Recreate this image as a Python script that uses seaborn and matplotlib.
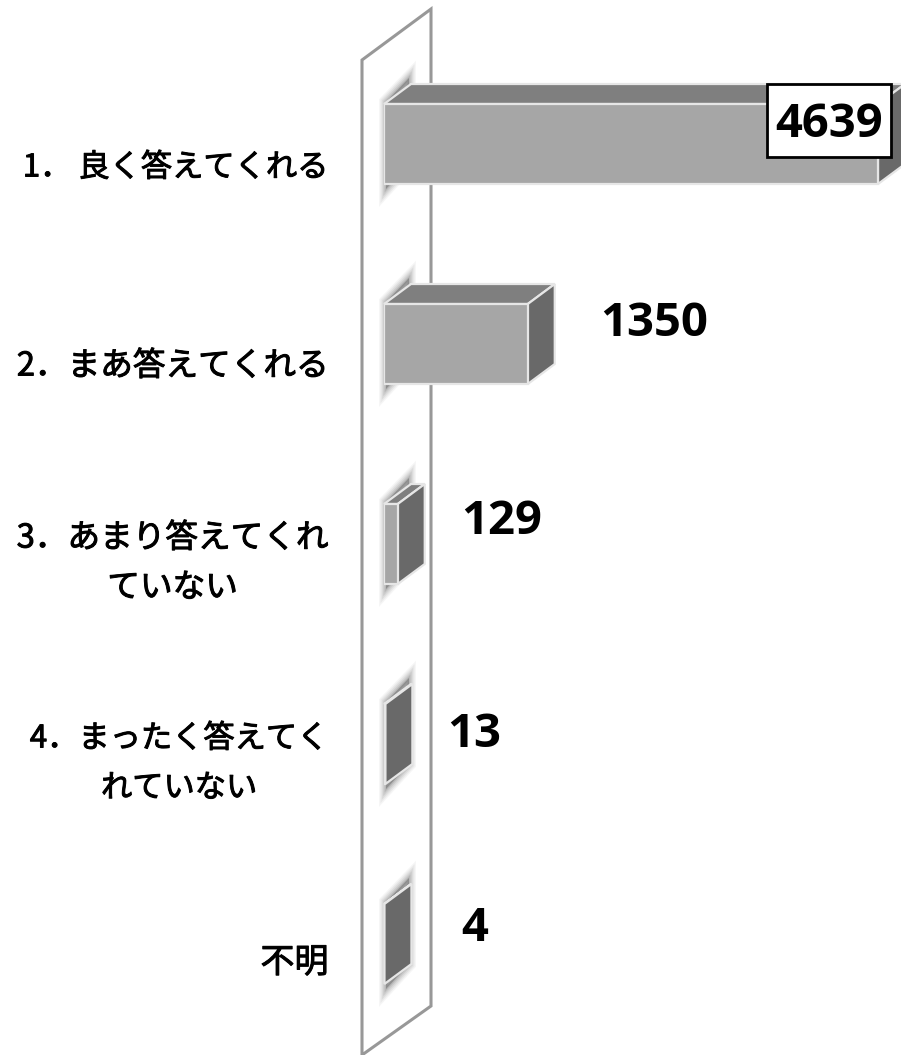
import seaborn as sns
import matplotlib.pyplot as plt
import matplotlib.patheffects as pe
import pandas as pd
from matplotlib.patches import Polygon, Rectangle

sns.set_theme(style="white")
plt.rcParams['font.family'] = ['Noto Sans CJK JP', 'DejaVu Sans']

# Data
categories = ['1． 良く答えてくれる', '2．まあ答えてくれる', '3．あまり答えてくれ\nていない',
              '4．まったく答えてく\nれていない', '不明']
counts = [4639, 1350, 129, 13, 4]

df = pd.DataFrame({'category': categories, 'count': counts})

fig = plt.figure(figsize=(9.01, 10.55), dpi=100)
ax = fig.add_axes([384 / 901, 0, 517 / 901, 1])

sns.barplot(data=df, y='category', x='count', orient='h', color='#a6a6a6',
            saturation=1, width=0.4, edgecolor='#e6e6e6', linewidth=1.6,
            zorder=4, ax=ax)

# one count is 494/4639 px wide, one category is 200 px tall
px_x = 4639 / 494
px_y = 1 / 200
ax.set_xlim(0, 517 * px_x)
ax.set_ylim(911 * px_y, -144 * px_y)

depth_x = 27 * px_x
depth_y = 20 * px_y

# Back wall
wall = Polygon([(-22 * px_x, -84 * px_y), (47 * px_x, -135 * px_y),
                (47 * px_x, 862 * px_y), (-22 * px_x, 911 * px_y)],
               closed=True, facecolor='white', edgecolor='#989898',
               linewidth=2.2, clip_on=False, zorder=1)
ax.add_patch(wall)

# 3D faces and soft shadow, built from the bars themselves
for bar in ax.patches[:len(counts)]:
    x1 = bar.get_width()
    top = bar.get_y()
    bottom = top + bar.get_height()

    shadow = [(2 * px_x, bottom + 5 * px_y), (2 * px_x, top - 2 * px_y),
              (depth_x - 2 * px_x, top - depth_y - 6 * px_y), (depth_x - 2 * px_x, bottom - depth_y)]
    for w, a in [(10, 0.06), (8, 0.08), (6, 0.1), (4, 0.13), (2, 0.18)]:
        ax.add_patch(Polygon(shadow, closed=True, facecolor='#606060', edgecolor='#606060',
                             linewidth=w, alpha=a, clip_on=False, zorder=2))

    top_face = [(0, top), (depth_x, top - depth_y), (x1 + depth_x, top - depth_y), (x1, top)]
    side_face = [(x1, top), (x1 + depth_x, top - depth_y),
                 (x1 + depth_x, bottom - depth_y), (x1, bottom)]
    ax.add_patch(Polygon(top_face, closed=True, facecolor='#7f7f7f', edgecolor='#e6e6e6',
                         linewidth=1.6, clip_on=False, zorder=3))
    ax.add_patch(Polygon(side_face, closed=True, facecolor='#696969', edgecolor='#e6e6e6',
                         linewidth=1.6, clip_on=False, zorder=3))

# White box behind the first value
ax.add_patch(Rectangle((counts[0] - 111 * px_x, -60 * px_y), 124 * px_x, 73 * px_y,
                       facecolor='white', edgecolor='black', linewidth=2,
                       clip_on=False, zorder=5))

# Value labels, offsets are pixels from the bar end and centre
label_offsets = [(-49, 25), (126, 26), (104, 28), (89, 15), (90, 21)]
for i, (value, (ox, oy)) in enumerate(zip(counts, label_offsets)):
    ax.annotate(str(value), xy=(value, i), xytext=(ox, oy), textcoords='offset pixels',
                ha='center', va='center_baseline', fontsize=34, fontweight='bold',
                family='Open Sans', color='black', zorder=6)

# Category labels sit a bit below the bar centre
tick_shift = [0.1, 0.095, 0.035, 0.035, 0.075]
tick_sizes = [22.5, 23.5, 23.5, 22.5, 24.5]
ax.set_yticks([i + s for i, s in enumerate(tick_shift)], categories)
ax.tick_params(axis='y', length=0, pad=40)
for label, size in zip(ax.get_yticklabels(), tick_sizes):
    label.set_fontsize(size)
    label.set_multialignment('center')
    label.set_linespacing(1.7)
    label.set_color('black')
    label.set_path_effects([pe.withStroke(linewidth=0.7, foreground='black')])

ax.set_xticks([])
ax.set_xlabel('')
ax.set_ylabel('')
sns.despine(ax=ax, left=True, bottom=True)

fig.savefig('out.png', dpi=100, facecolor='white')
